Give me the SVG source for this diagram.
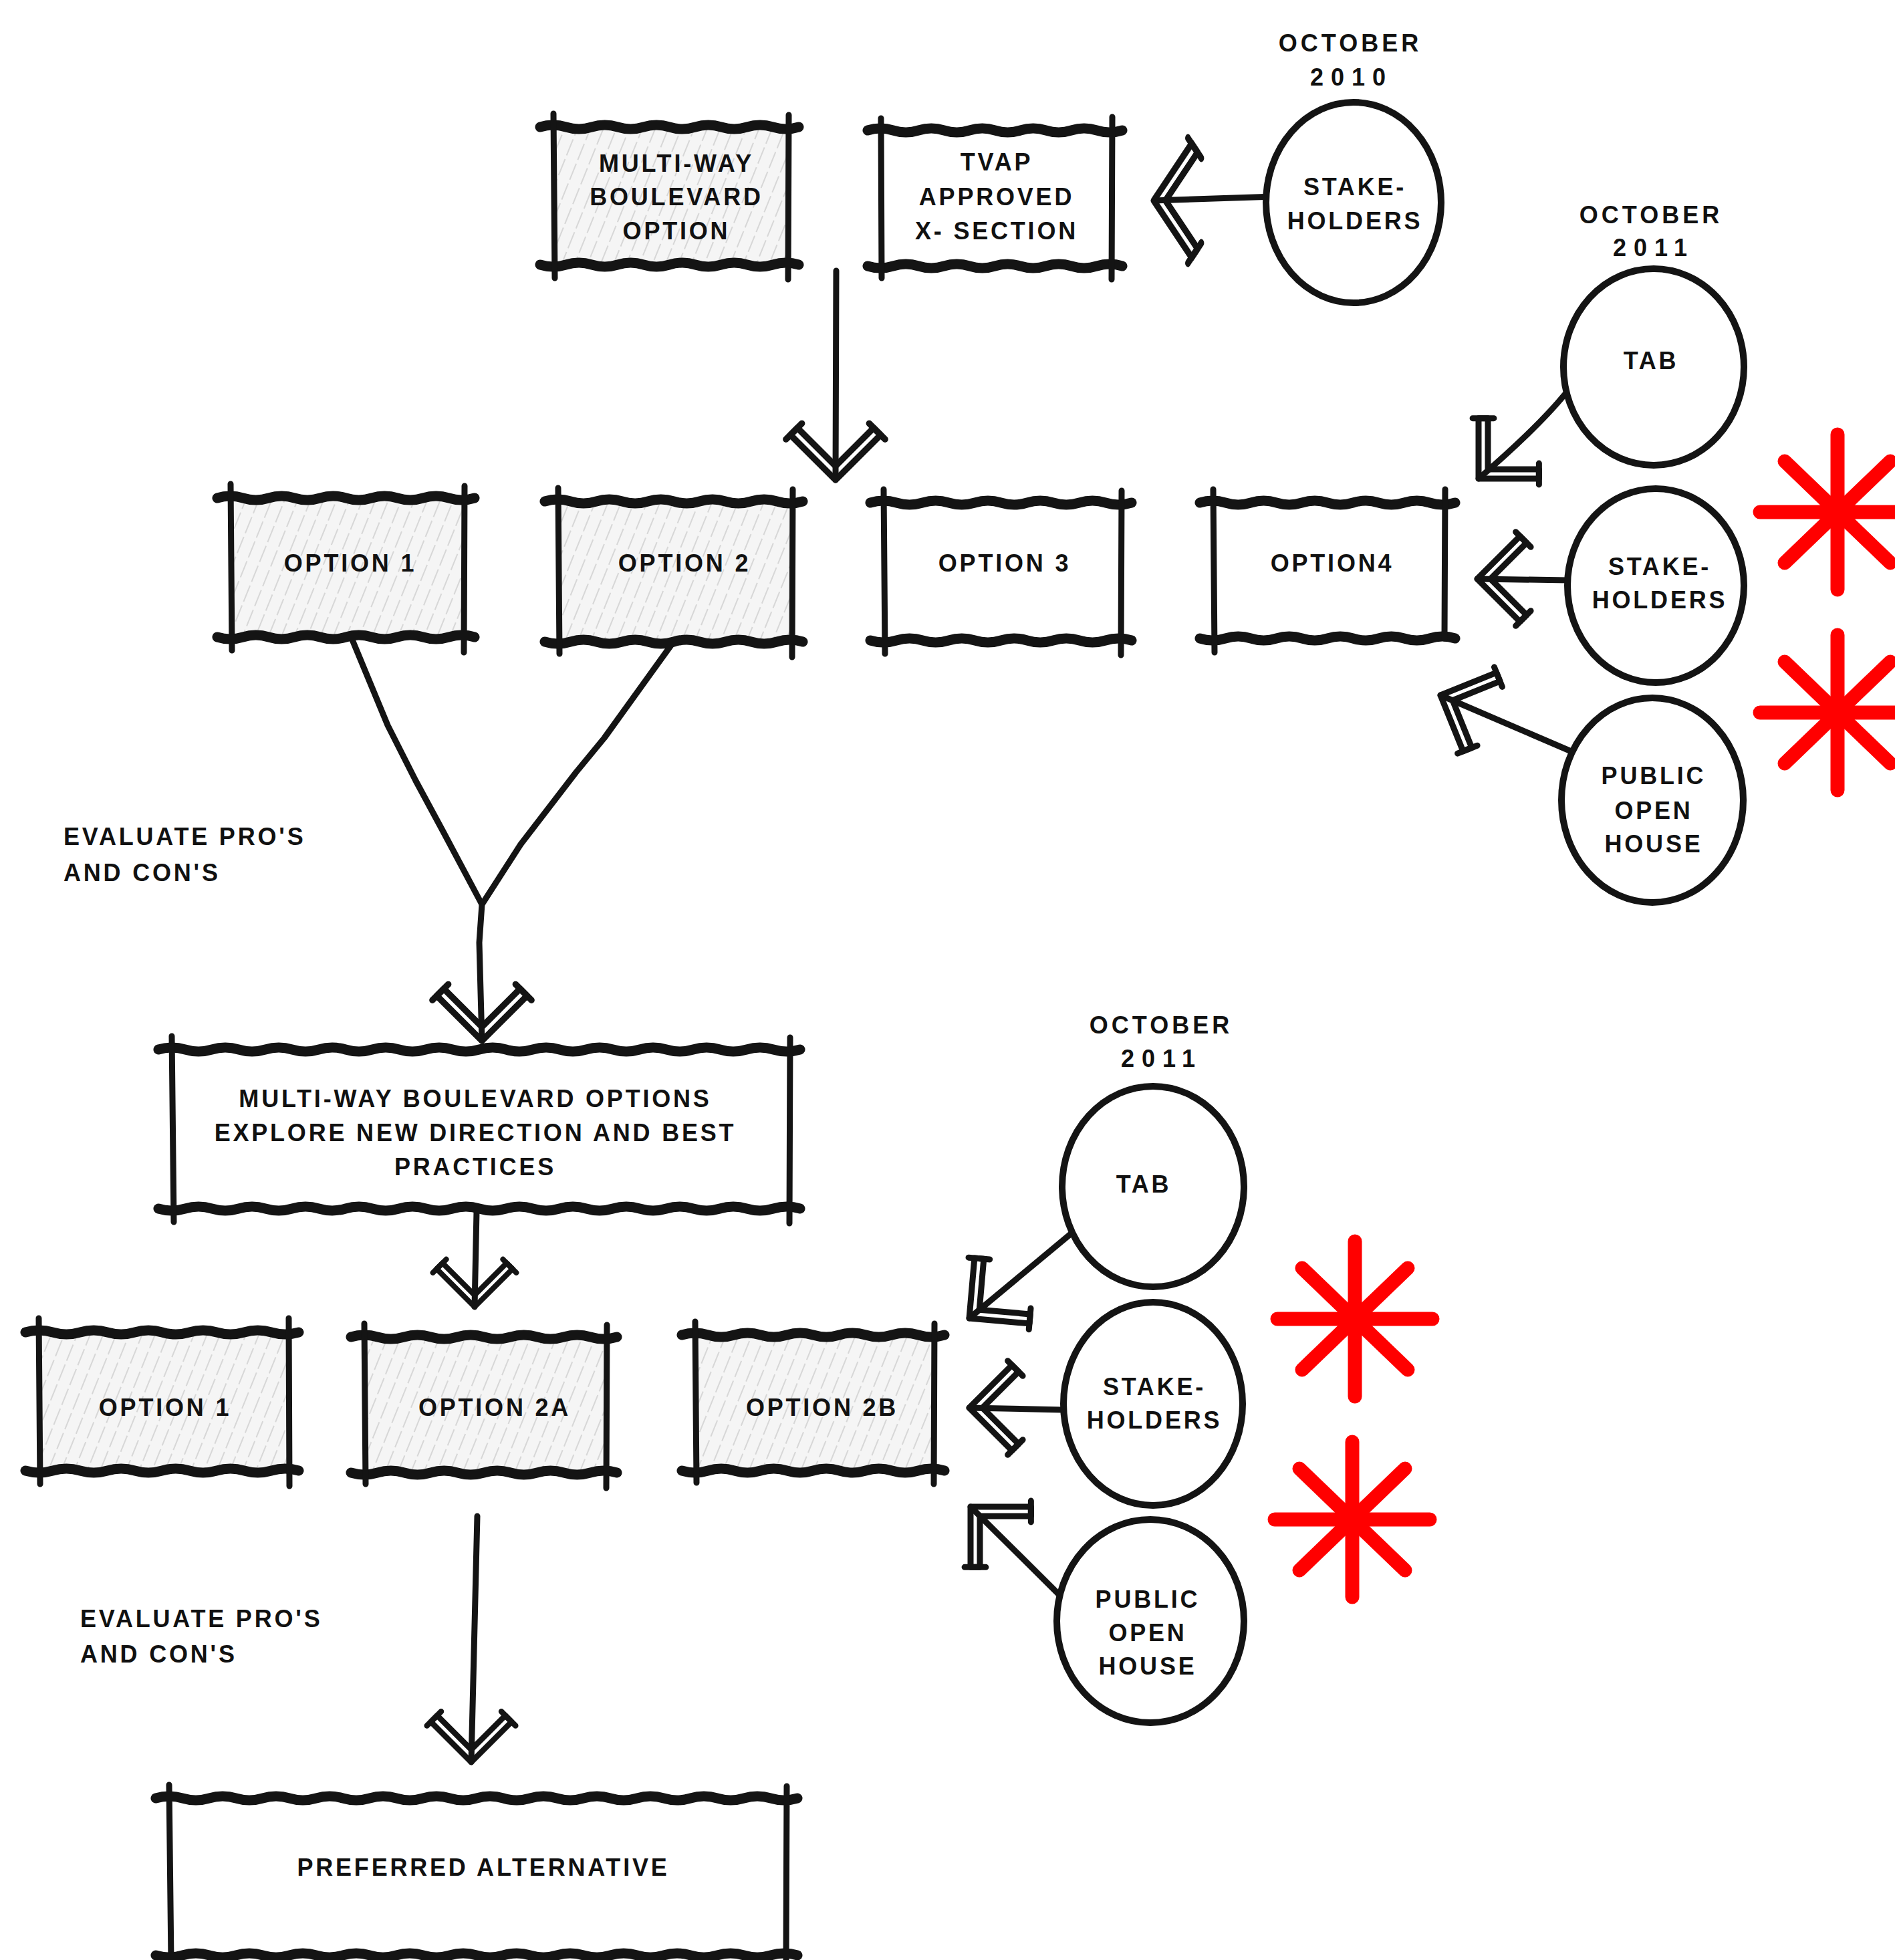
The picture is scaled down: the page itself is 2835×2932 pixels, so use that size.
<svg xmlns="http://www.w3.org/2000/svg" width="2835" height="2932" viewBox="0 0 2835 2932">
<defs>
<pattern id="hatch" patternUnits="userSpaceOnUse" width="18" height="64" patternTransform="rotate(22)">
<rect width="18" height="64" fill="#f5f5f5"/>
<line x1="9" y1="0" x2="9" y2="64" stroke="#d0d0d0" stroke-width="1.6" stroke-dasharray="26 6"/>
</pattern>
<g id="ah" fill="none" stroke="#141414" stroke-width="10" stroke-linejoin="round" stroke-linecap="round">
<polygon points="0,0 -71,-71 -82,-60 -22,0 -82,60 -71,71"/>
<line x1="-64" y1="-78" x2="-89" y2="-53"/>
<line x1="-64" y1="78" x2="-89" y2="53"/>
</g>
<g id="star" stroke="#ff0000" stroke-width="21" stroke-linecap="round">
<line x1="0" y1="-116" x2="0" y2="116"/>
<line x1="-116" y1="0" x2="116" y2="0"/>
<line x1="-79" y1="-76" x2="79" y2="76"/>
<line x1="-79" y1="76" x2="79" y2="-76"/>
</g>
</defs>
<style>
.t{font-family:"Liberation Sans",Arial,sans-serif;font-size:36px;font-weight:bold;letter-spacing:3.8px;fill:#111;text-anchor:middle}
.tl{text-anchor:start}
.date{letter-spacing:5px}
.yr{letter-spacing:11px}
.edge{fill:none;stroke:#141414;stroke-width:15;stroke-linecap:round;stroke-linejoin:round}
.side{fill:none;stroke:#141414;stroke-width:9;stroke-linecap:round}
.circ{fill:#fff;stroke:#141414;stroke-width:10}
.con{fill:none;stroke:#141414;stroke-width:9;stroke-linecap:round;stroke-linejoin:round}
</style>
<rect width="2835" height="2932" fill="#fff"/>

<g id="connectors">
<path class="con" d="M1907,294 L1726,300"/>
<use href="#ah" transform="translate(1726,300) rotate(180) scale(0.8,1.2)"/>
<path class="con" d="M1251,405 L1250,718"/>
<use href="#ah" transform="translate(1250,718) rotate(90) scale(0.95)"/>
<path class="con" d="M2341,590 Q2300,640 2212,716"/>
<use href="#ah" transform="translate(2212,716) rotate(135) scale(0.9)"/>
<path class="con" d="M2347,868 L2210,866"/>
<use href="#ah" transform="translate(2210,866) rotate(180) scale(0.9)"/>
<path class="con" d="M2353,1125 L2155,1040"/>
<use href="#ah" transform="translate(2155,1040) rotate(203) scale(0.9)"/>
<path class="con" d="M527,957 L580,1085 L622,1168 L663,1244 L721,1353"/>
<path class="con" d="M1007,961 L904,1104 L862,1155 L779,1263 L721,1353 L717,1410 L721,1557"/>
<use href="#ah" transform="translate(721,1557) rotate(90) scale(0.95)"/>
<path class="con" d="M713,1812 L710,1955"/>
<use href="#ah" transform="translate(710,1955) rotate(90) scale(0.8)"/>
<path class="con" d="M1604,1844 L1450,1972"/>
<use href="#ah" transform="translate(1450,1972) rotate(140) scale(0.9)"/>
<path class="con" d="M1591,2109 L1450,2106"/>
<use href="#ah" transform="translate(1450,2106) rotate(180) scale(0.9)"/>
<path class="con" d="M1586,2387 L1452,2254"/>
<use href="#ah" transform="translate(1452,2254) rotate(225) scale(0.9)"/>
<path class="con" d="M714,2268 L705,2636"/>
<use href="#ah" transform="translate(705,2636) rotate(90) scale(0.85)"/>
</g>

<g id="multiway-option">
<rect x="828" y="190" width="352" height="206" fill="url(#hatch)"/>
<path class="edge" d="M808,190 q19.35,-6 38.7,0 t38.7,0 t38.7,0 t38.7,0 t38.7,0 t38.7,0 t38.7,0 t38.7,0 t38.7,0 t38.7,0"/>
<path class="edge" d="M808,396 q19.35,6 38.7,0 t38.7,0 t38.7,0 t38.7,0 t38.7,0 t38.7,0 t38.7,0 t38.7,0 t38.7,0 t38.7,0"/>
<path class="side" d="M828,170 L830,416 M1180,172 L1179,418"/>
<text class="t" x="1012" y="257">MULTI-WAY</text>
<text class="t" x="1012" y="307">BOULEVARD</text>
<text class="t" x="1012" y="358">OPTION</text>
</g>

<g id="tvap">
<rect x="1318" y="195" width="346" height="203" fill="#fff"/>
<path class="edge" d="M1298,195 q19.05,-6 38.1,0 t38.1,0 t38.1,0 t38.1,0 t38.1,0 t38.1,0 t38.1,0 t38.1,0 t38.1,0 t38.1,0"/>
<path class="edge" d="M1298,398 q19.05,6 38.1,0 t38.1,0 t38.1,0 t38.1,0 t38.1,0 t38.1,0 t38.1,0 t38.1,0 t38.1,0 t38.1,0"/>
<path class="side" d="M1318,177 L1319,416 M1664,175 L1663,418"/>
<text class="t" x="1491" y="255">TVAP</text>
<text class="t" x="1491" y="307">APPROVED</text>
<text class="t" x="1491" y="358">X- SECTION</text>
</g>

<g id="date-2010">
<text class="t date" x="2020" y="77">OCTOBER</text>
<text class="t yr" x="2022" y="128">2010</text>
</g>

<g id="stakeholders-2010">
<ellipse class="circ" cx="2025" cy="303" rx="131" ry="150"/>
<text class="t" x="2027" y="292">STAKE-</text>
<text class="t" x="2027" y="343">HOLDERS</text>
</g>

<g id="date-2011-a">
<text class="t date" x="2470" y="334">OCTOBER</text>
<text class="t yr" x="2474" y="383">2011</text>
</g>

<g id="tab-1">
<ellipse class="circ" cx="2474" cy="549" rx="135" ry="147"/>
<text class="t" x="2470" y="552">TAB</text>
</g>

<g id="stakeholders-1">
<ellipse class="circ" cx="2477" cy="876" rx="132" ry="145"/>
<text class="t" x="2483" y="860">STAKE-</text>
<text class="t" x="2483" y="910">HOLDERS</text>
</g>

<g id="public-open-house-1">
<ellipse class="circ" cx="2472" cy="1197" rx="136" ry="153"/>
<text class="t" x="2474" y="1173">PUBLIC</text>
<text class="t" x="2474" y="1225">OPEN</text>
<text class="t" x="2474" y="1275">HOUSE</text>
</g>

<g id="option-1">
<rect x="345" y="745" width="350" height="208" fill="url(#hatch)"/>
<path class="edge" d="M325,745 q19.25,-6 38.5,0 t38.5,0 t38.5,0 t38.5,0 t38.5,0 t38.5,0 t38.5,0 t38.5,0 t38.5,0 t38.5,0"/>
<path class="edge" d="M325,953 q19.25,6 38.5,0 t38.5,0 t38.5,0 t38.5,0 t38.5,0 t38.5,0 t38.5,0 t38.5,0 t38.5,0 t38.5,0"/>
<path class="side" d="M345,724 L347,973 M695,727 L694,976"/>
<text class="t" x="524" y="855">OPTION 1</text>
</g>

<g id="option-2">
<rect x="835" y="750" width="351" height="210" fill="url(#hatch)"/>
<path class="edge" d="M815,750 q19.3,-6 38.6,0 t38.6,0 t38.6,0 t38.6,0 t38.6,0 t38.6,0 t38.6,0 t38.6,0 t38.6,0 t38.6,0"/>
<path class="edge" d="M815,960 q19.3,6 38.6,0 t38.6,0 t38.6,0 t38.6,0 t38.6,0 t38.6,0 t38.6,0 t38.6,0 t38.6,0 t38.6,0"/>
<path class="side" d="M835,730 L837,978 M1186,732 L1185,983"/>
<text class="t" x="1024" y="855">OPTION 2</text>
</g>

<g id="option-3">
<rect x="1322" y="752" width="356" height="206" fill="#fff"/>
<path class="edge" d="M1302,752 q19.55,-6 39.1,0 t39.1,0 t39.1,0 t39.1,0 t39.1,0 t39.1,0 t39.1,0 t39.1,0 t39.1,0 t39.1,0"/>
<path class="edge" d="M1302,958 q19.55,6 39.1,0 t39.1,0 t39.1,0 t39.1,0 t39.1,0 t39.1,0 t39.1,0 t39.1,0 t39.1,0 t39.1,0"/>
<path class="side" d="M1322,732 L1324,978 M1678,734 L1677,980"/>
<text class="t" x="1503" y="855">OPTION 3</text>
</g>

<g id="option-4">
<rect x="1815" y="752" width="347" height="203" fill="#fff"/>
<path class="edge" d="M1795,752 q19.1,-6 38.2,0 t38.2,0 t38.2,0 t38.2,0 t38.2,0 t38.2,0 t38.2,0 t38.2,0 t38.2,0 t38.2,0"/>
<path class="edge" d="M1795,955 q19.1,6 38.2,0 t38.2,0 t38.2,0 t38.2,0 t38.2,0 t38.2,0 t38.2,0 t38.2,0 t38.2,0 t38.2,0"/>
<path class="side" d="M1815,732 L1817,976 M2162,732 L2161,955"/>
<text class="t" x="1993" y="855">OPTION4</text>
</g>

<g id="evaluate-1">
<text class="t tl" x="95" y="1264">EVALUATE PRO'S</text>
<text class="t tl" x="95" y="1318">AND CON'S</text>
</g>

<g id="multiway-options-explore">
<rect x="257" y="1570" width="925" height="238" fill="#fff"/>
<path class="edge" d="M237,1570 q20,-6 40,0 t40,0 t40,0 t40,0 t40,0 t40,0 t40,0 t40,0 t40,0 t40,0 t40,0 t40,0 t40,0 t40,0 t40,0 t40,0 t40,0 t40,0 t40,0 t40,0 t40,0 t40,0 t40,0 t40,0"/>
<path class="edge" d="M237,1808 q20,6 40,0 t40,0 t40,0 t40,0 t40,0 t40,0 t40,0 t40,0 t40,0 t40,0 t40,0 t40,0 t40,0 t40,0 t40,0 t40,0 t40,0 t40,0 t40,0 t40,0 t40,0 t40,0 t40,0 t40,0"/>
<path class="side" d="M257,1550 L260,1828 M1182,1552 L1181,1830"/>
<text class="t" x="711" y="1656">MULTI-WAY BOULEVARD OPTIONS</text>
<text class="t" x="711" y="1707">EXPLORE NEW DIRECTION AND BEST</text>
<text class="t" x="711" y="1758">PRACTICES</text>
</g>

<g id="option-1b">
<rect x="58" y="1993" width="374" height="207" fill="url(#hatch)"/>
<path class="edge" d="M38,1993 q20.45,-6 40.9,0 t40.9,0 t40.9,0 t40.9,0 t40.9,0 t40.9,0 t40.9,0 t40.9,0 t40.9,0 t40.9,0"/>
<path class="edge" d="M38,2200 q20.45,6 40.9,0 t40.9,0 t40.9,0 t40.9,0 t40.9,0 t40.9,0 t40.9,0 t40.9,0 t40.9,0 t40.9,0"/>
<path class="side" d="M58,1972 L60,2220 M432,1972 L433,2223"/>
<text class="t" x="247" y="2118">OPTION 1</text>
</g>

<g id="option-2a">
<rect x="545" y="2000" width="363" height="203" fill="url(#hatch)"/>
<path class="edge" d="M525,2000 q19.9,-6 39.8,0 t39.8,0 t39.8,0 t39.8,0 t39.8,0 t39.8,0 t39.8,0 t39.8,0 t39.8,0 t39.8,0"/>
<path class="edge" d="M525,2203 q19.9,6 39.8,0 t39.8,0 t39.8,0 t39.8,0 t39.8,0 t39.8,0 t39.8,0 t39.8,0 t39.8,0 t39.8,0"/>
<path class="side" d="M545,1980 L547,2220 M908,1982 L907,2226"/>
<text class="t" x="740" y="2118">OPTION  2A</text>
</g>

<g id="option-2b">
<rect x="1040" y="1997" width="358" height="203" fill="url(#hatch)"/>
<path class="edge" d="M1020,1997 q19.65,-6 39.3,0 t39.3,0 t39.3,0 t39.3,0 t39.3,0 t39.3,0 t39.3,0 t39.3,0 t39.3,0 t39.3,0"/>
<path class="edge" d="M1020,2200 q19.65,6 39.3,0 t39.3,0 t39.3,0 t39.3,0 t39.3,0 t39.3,0 t39.3,0 t39.3,0 t39.3,0 t39.3,0"/>
<path class="side" d="M1040,1977 L1042,2218 M1398,1980 L1397,2220"/>
<text class="t" x="1230" y="2118">OPTION  2B</text>
</g>

<g id="date-2011-b">
<text class="t date" x="1737" y="1546">OCTOBER</text>
<text class="t yr" x="1738" y="1596">2011</text>
</g>

<g id="tab-2">
<ellipse class="circ" cx="1725" cy="1775" rx="136" ry="150"/>
<text class="t" x="1711" y="1784">TAB</text>
</g>

<g id="stakeholders-2">
<ellipse class="circ" cx="1725" cy="2100" rx="134" ry="152"/>
<text class="t" x="1727" y="2087">STAKE-</text>
<text class="t" x="1727" y="2137">HOLDERS</text>
</g>

<g id="public-open-house-2">
<ellipse class="circ" cx="1721" cy="2425" rx="140" ry="152"/>
<text class="t" x="1717" y="2405">PUBLIC</text>
<text class="t" x="1717" y="2455">OPEN</text>
<text class="t" x="1717" y="2505">HOUSE</text>
</g>

<g id="evaluate-2">
<text class="t tl" x="120" y="2434">EVALUATE PRO'S</text>
<text class="t tl" x="120" y="2487">AND CON'S</text>
</g>

<g id="preferred-alternative">
<rect x="253" y="2690" width="924" height="235" fill="#fff"/>
<path class="edge" d="M233,2690 q20,-6 40,0 t40,0 t40,0 t40,0 t40,0 t40,0 t40,0 t40,0 t40,0 t40,0 t40,0 t40,0 t40,0 t40,0 t40,0 t40,0 t40,0 t40,0 t40,0 t40,0 t40,0 t40,0 t40,0 t40,0"/>
<path class="edge" d="M233,2925 q20,6 40,0 t40,0 t40,0 t40,0 t40,0 t40,0 t40,0 t40,0 t40,0 t40,0 t40,0 t40,0 t40,0 t40,0 t40,0 t40,0 t40,0 t40,0 t40,0 t40,0 t40,0 t40,0 t40,0 t40,0"/>
<path class="side" d="M253,2670 L256,2935 M1177,2672 L1176,2935"/>
<text class="t" x="723" y="2806">PREFERRED ALTERNATIVE</text>
</g>

<g id="asterisks">
<use href="#star" x="2749" y="766"/>
<use href="#star" x="2749" y="1066"/>
<use href="#star" x="2027" y="1973"/>
<use href="#star" x="2023" y="2273"/>
</g>
</svg>
